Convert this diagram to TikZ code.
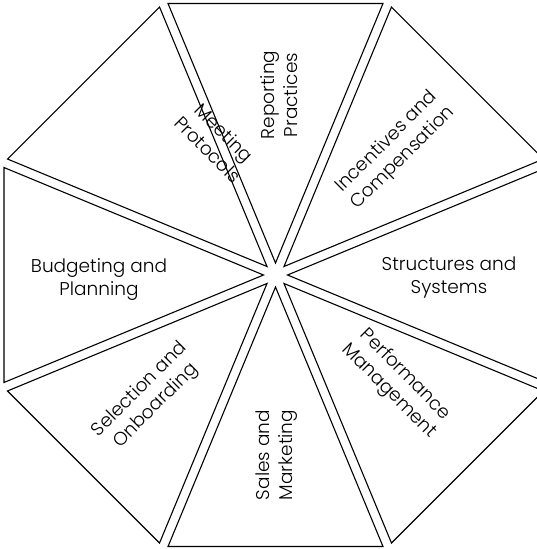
\documentclass[tikz,border=0pt]{standalone}
\usepackage{fontspec}
\setmainfont{Poppins}[UprightFont=* Light]
\usetikzlibrary{calc}
\tikzset{
  wedge/.style={draw=black, line width=1.1pt, line join=miter},
  lbl/.style={align=center, font=\fontsize{18.5}{23}\selectfont, inner sep=0pt}
}
\newcommand{\wedgeat}[1]{%
  \draw[wedge] ($(C)+(#1:12)$) -- ($(C)+(#1:12)+(#1+22.5:280.9)$) -- ($(C)+(#1:12)+(#1-22.5:280.9)$) -- cycle;}
\begin{document}
\begin{tikzpicture}[x=1pt,y=-1pt]
\useasboundingbox (0,0) rectangle (537,549);
\coordinate (C) at (275.5,275);
\wedgeat{0}
\wedgeat{45}
\wedgeat{90}
\wedgeat{135}
\wedgeat{180}
\wedgeat{225}
\wedgeat{270}
\wedgeat{315}
\node[lbl, rotate=-45] (meet) at (216,141) {Meeting\\Protocols};
\node[lbl, rotate=90] (rep) at (279,95) {Reporting\\Practices};
\node[lbl, rotate=45] (inc) at (395,150) {Incentives and\\Compensation};
\node[lbl] (str) at (449,278) {Structures and\\Systems};
\node[lbl, rotate=-45] (perf) at (397,383) {Performance\\Management};
\node[lbl, rotate=90] (sales) at (277,455) {Sales and\\Marketing};
\node[lbl, rotate=45] (sel) at (148,398) {Selection and\\Onboarding};
\node[lbl] (bud) at (99,280) {Budgeting and\\Planning};
\end{tikzpicture}
\end{document}
